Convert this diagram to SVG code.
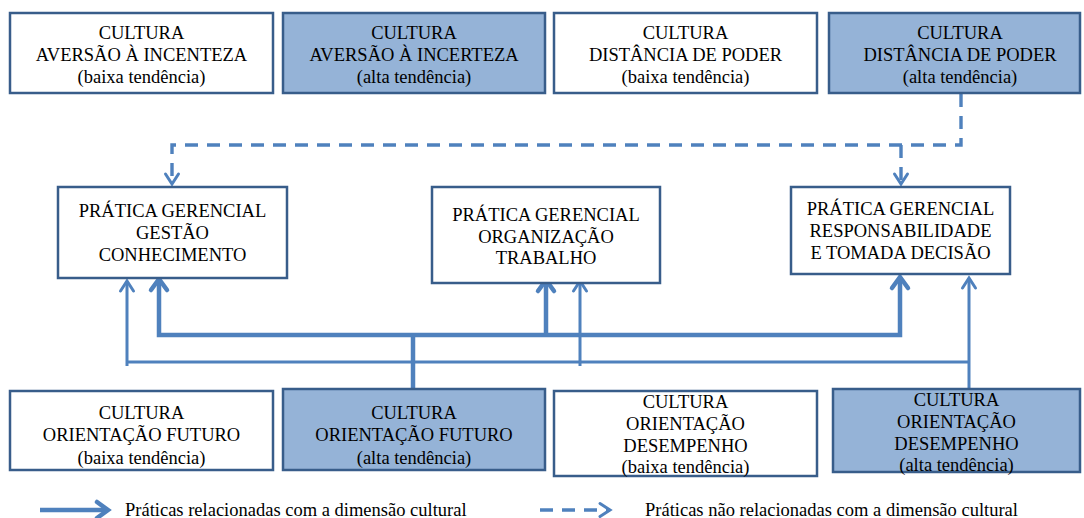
<svg xmlns="http://www.w3.org/2000/svg" width="1084" height="518" viewBox="0 0 1084 518" font-family="'Liberation Serif', 'Times New Roman', 'DejaVu Serif', serif">
<defs>
<style>
.box{fill:#ffffff;stroke:#385D8A;stroke-width:2.5}
.fill{fill:#95B3D7}
text{font-family:'Liberation Serif','Times New Roman','DejaVu Serif',serif;font-size:18.5px;fill:#000;text-anchor:middle}
.leg{text-anchor:start;font-size:18.5px}
.thick{fill:none;stroke:#4F81BD;stroke-width:4.5}
.thin{fill:none;stroke:#4F81BD;stroke-width:3}
.dash{fill:none;stroke:#4F81BD;stroke-width:3.4;stroke-dasharray:13 9}
</style>
<marker id="ahThick" markerUnits="userSpaceOnUse" viewBox="-16 -12 20 24" refX="0" refY="0" markerWidth="20" markerHeight="24" orient="auto-start-reverse" overflow="visible">
<path d="M-11,-8 L0,0 L-11,8" fill="none" stroke="#4F81BD" stroke-width="4.5" stroke-linecap="round" stroke-linejoin="miter"/>
</marker>
<marker id="ahThin" markerUnits="userSpaceOnUse" viewBox="-16 -12 20 24" refX="0" refY="0" markerWidth="20" markerHeight="24" orient="auto-start-reverse" overflow="visible">
<path d="M-10,-6.5 L0,0 L-10,6.5" fill="none" stroke="#4F81BD" stroke-width="3" stroke-linecap="round" stroke-linejoin="miter"/>
</marker>
</defs>
<rect width="1084" height="518" fill="#ffffff"/>

<g id="connectors">
<path class="dash" d="M961,94 V145 H172 V184" marker-end="url(#ahThin)"/>
<path class="dash" d="M901,145 V184" marker-end="url(#ahThin)"/>
<path class="thick" d="M159,279 V335 H900 V277" marker-start="url(#ahThick)" marker-end="url(#ahThick)"/>
<path class="thick" d="M546,335 V280" marker-end="url(#ahThick)"/>
<path class="thick" d="M413,389 V335"/>
<path class="thin" d="M127,366 V281" marker-end="url(#ahThin)"/>
<path class="thin" d="M127,362 H969"/>
<path class="thin" d="M580,366 V281" marker-end="url(#ahThin)"/>
<path class="thin" d="M969,390 V278" marker-end="url(#ahThin)"/>
</g>

<g id="top-aversao-baixa">
<rect class="box" x="10" y="13" width="263" height="80"/>
<text x="141.5" y="39">CULTURA</text>
<text x="141.5" y="61">AVERSÃO À INCENTEZA</text>
<text x="141.5" y="83">(baixa tendência)</text>
</g>
<g id="top-aversao-alta">
<rect class="box fill" x="283" y="13" width="262" height="80"/>
<text x="414" y="39">CULTURA</text>
<text x="414" y="61">AVERSÃO À INCERTEZA</text>
<text x="414" y="83">(alta tendência)</text>
</g>
<g id="top-distancia-baixa">
<rect class="box" x="554" y="13" width="263" height="80"/>
<text x="685.5" y="39">CULTURA</text>
<text x="685.5" y="61">DISTÂNCIA DE PODER</text>
<text x="685.5" y="83">(baixa tendência)</text>
</g>
<g id="top-distancia-alta">
<rect class="box fill" x="829" y="13" width="251" height="80"/>
<text x="960" y="39">CULTURA</text>
<text x="960" y="61">DISTÂNCIA DE PODER</text>
<text x="960" y="83">(alta tendência)</text>
</g>

<g id="pratica-gestao">
<rect class="box" x="58" y="187" width="229" height="91"/>
<text x="172.5" y="217">PRÁTICA GERENCIAL</text>
<text x="172.5" y="239">GESTÃO</text>
<text x="172.5" y="261">CONHECIMENTO</text>
</g>
<g id="pratica-organizacao">
<rect class="box" x="432" y="187" width="228" height="96"/>
<text x="546" y="221">PRÁTICA GERENCIAL</text>
<text x="546" y="243">ORGANIZAÇÃO</text>
<text x="546" y="264">TRABALHO</text>
</g>
<g id="pratica-responsabilidade">
<rect class="box" x="791" y="187" width="219" height="87"/>
<text x="900.5" y="215">PRÁTICA GERENCIAL</text>
<text x="900.5" y="237">RESPONSABILIDADE</text>
<text x="900.5" y="259">E TOMADA DECISÃO</text>
</g>

<g id="bottom-futuro-baixa">
<rect class="box" x="10" y="391" width="263" height="79"/>
<text x="141.5" y="419">CULTURA</text>
<text x="141.5" y="441">ORIENTAÇÃO FUTURO</text>
<text x="141.5" y="464">(baixa tendência)</text>
</g>
<g id="bottom-futuro-alta">
<rect class="box fill" x="283" y="389" width="262" height="81"/>
<text x="414" y="419">CULTURA</text>
<text x="414" y="441">ORIENTAÇÃO FUTURO</text>
<text x="414" y="464">(alta tendência)</text>
</g>
<g id="bottom-desempenho-baixa">
<rect class="box" x="554" y="391" width="263" height="85"/>
<text x="685.5" y="408">CULTURA</text>
<text x="685.5" y="430">ORIENTAÇÃO</text>
<text x="685.5" y="452">DESEMPENHO</text>
<text x="685.5" y="473">(baixa tendência)</text>
</g>
<g id="bottom-desempenho-alta">
<rect class="box fill" x="833" y="389" width="247" height="83"/>
<text x="956.5" y="406">CULTURA</text>
<text x="956.5" y="428">ORIENTAÇÃO</text>
<text x="956.5" y="450">DESEMPENHO</text>
<text x="956.5" y="471">(alta tendência)</text>
</g>

<g id="legend">
<path class="thick" d="M40,510 H108" marker-end="url(#ahThick)"/>
<text class="leg" x="125" y="516">Práticas relacionadas com a dimensão cultural</text>
<path class="dash" d="M540,510 H610" marker-end="url(#ahThin)"/>
<text class="leg" x="645" y="516">Práticas não relacionadas com a dimensão cultural</text>
</g>
</svg>
